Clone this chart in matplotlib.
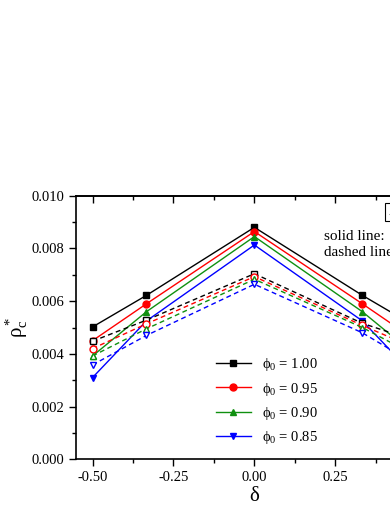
import numpy as np
import matplotlib.pyplot as plt

plt.rcParams['font.family'] = ['Liberation Serif', 'DejaVu Serif']
plt.rcParams['mathtext.fontset'] = 'custom'
plt.rcParams['mathtext.rm'] = 'Liberation Serif'
plt.rcParams['mathtext.it'] = 'Liberation Serif:italic'

delta = [-0.5, -1/3, 0.0, 1/3, 0.5]
phi0 = ["1.00", "0.95", "0.90", "0.85"]
colors = ["black", "red", "#109010", "blue"]
markers = ["s", "o", "^", "v"]

# solid lines (filled symbols)
solid = [
    [0.00502, 0.00622, 0.00880, 0.00622, 0.00502],
    [0.00450, 0.00590, 0.00864, 0.00590, 0.00450],
    [0.00392, 0.00560, 0.00845, 0.00560, 0.00392],
    [0.00310, 0.00525, 0.00813, 0.00525, 0.00310],
]
# dashed lines (open symbols)
dashed = [
    [0.00448, 0.00528, 0.00704, 0.00516, 0.00448],
    [0.00420, 0.00514, 0.00693, 0.00508, 0.00420],
    [0.00392, 0.00495, 0.00683, 0.00500, 0.00392],
    [0.00358, 0.00470, 0.00664, 0.00480, 0.00358],
]

W, H = 390, 505
fig = plt.figure(figsize=(W / 100, H / 100), dpi=100)
ax = fig.add_axes([76/W, 45.7/H, 356.8/W, 263.6/H])

for i in range(4):
    ax.plot(delta, solid[i], "-", color=colors[i], lw=1,
            marker=markers[i], ms=5, label="ϕ$_0$ = " + phi0[i])
for i in range(4):
    ax.plot(delta, dashed[i], linestyle=(0, (3.5, 2.5)), color=colors[i], lw=1,
            marker=markers[i], ms=5, mfc="white", mec=colors[i], mew=1)

ax.set_xlim(-0.551, 0.551)
ax.set_ylim(0, 0.010)
xt = [-0.5, -0.25, 0, 0.25, 0.5]
xm = [-0.375, -0.125, 0.125, 0.375]
ax.set_xticks(xt)
ax.set_xticks(xm, minor=True)
ax.set_yticks(np.arange(0, 0.0101, 0.002))
ax.set_yticks(np.arange(0.001, 0.01, 0.002), minor=True)
ax.xaxis.set_major_formatter(plt.FuncFormatter(lambda v, p: f"{v:.2f}"))
ax.yaxis.set_major_formatter(plt.FuncFormatter(lambda v, p: f"{v:.3f}"))
ax.tick_params(which="both", direction="out", labelsize=10.5, width=1)
ax.tick_params(which="major", length=5)
ax.tick_params(which="minor", length=3)
for s in ax.spines.values():
    s.set_linewidth(1.2)

top = ax.secondary_xaxis("top")
top.set_xticks(xt)
top.set_xticks(xm, minor=True)
top.tick_params(which="both", direction="in", labeltop=False, width=1)
top.tick_params(which="major", length=5)
top.tick_params(which="minor", length=3)
top.spines["top"].set_linewidth(1.2)

ax.set_xlabel("δ", fontsize=15, labelpad=2)
ax.set_ylabel(r"$\mathrm{ρ}_\mathrm{c}^*$", fontsize=15, labelpad=1)

ax.legend(loc="lower left", bbox_to_anchor=(0.355, 0.0), frameon=False,
          fontsize=10.5, handlelength=2.4, labelspacing=0.5, handletextpad=0.8)

fig.text(324/W, 1 - 237/H, "solid line:", fontsize=11, va="center")
fig.text(324/W, 1 - 253/H, "dashed line:", fontsize=11, va="center")
fig.text(388/W, 1 - 212/H, "Z", fontsize=11, va="center",
         bbox=dict(facecolor="white", edgecolor="black", lw=0.8, pad=2))

fig.savefig("out.png", dpi=100)
